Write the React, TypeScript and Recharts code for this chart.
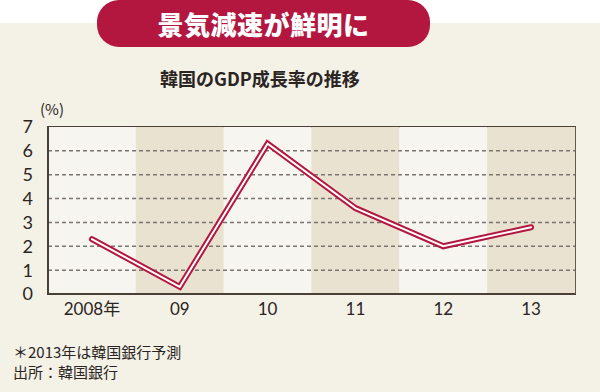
import React from 'react';
import {
  ComposedChart,
  Bar,
  Line,
  Cell,
  XAxis,
  YAxis,
  ReferenceLine,
  ReferenceArea,
} from 'recharts';

const years = ['2008年', '09', '10', '11', '12', '13'];
const growth = [2.3, 0.3, 6.3, 3.6, 2.0, 2.8];
const yTicks = [0, 1, 2, 3, 4, 5, 6, 7];
const gridValues = [1, 2, 3, 4, 5, 6];
const bandTop = 7;

const data = years.map((year, i) => ({ year, growth: growth[i], band: bandTop }));

const CRIMSON = '#b3173f';
const BG = '#f4f1e6';
const BAND_LIGHT = '#f7f5f0';
const BAND_DARK = '#e9e2d0';
const AXIS = '#4a4038';
const FONT = '"Noto Sans CJK JP", "Noto Sans", sans-serif';
const NUM_FONT = 'Lato, "Noto Sans CJK JP", sans-serif';

export default function App() {
  return (
    <div
      style={{
        position: 'fixed',
        left: 0,
        top: 0,
        width: 600,
        height: 392,
        background: '#ffffff',
        overflow: 'hidden',
        fontFamily: FONT,
      }}
    >
      {/* beige panel */}
      <div style={{ position: 'absolute', left: 0, top: 23, width: 600, height: 369, background: BG }} />

      {/* title banner */}
      <div
        style={{
          position: 'absolute',
          left: 97,
          top: 0,
          width: 333,
          height: 47,
          borderRadius: 22,
          background: CRIMSON,
          color: '#fff',
          fontSize: 26,
          fontWeight: 900,
          lineHeight: '47px',
          textAlign: 'center',
          letterSpacing: 0.5,
        }}
      >
        景気減速が鮮明に
      </div>

      <div
        style={{
          position: 'absolute',
          left: 0,
          top: 65,
          width: 520,
          textAlign: 'center',
          fontSize: 18,
          fontWeight: 700,
          color: '#2a2523',
          lineHeight: '26px',
        }}
      >
        韓国のGDP成長率の推移
      </div>

      <div style={{ position: 'absolute', left: 40, top: 99, fontSize: 15, color: '#2a2523', lineHeight: '20px' }}>
        (%)
      </div>

      <div style={{ position: 'absolute', top: 0, left: 0 }}>
        <ComposedChart
          width={600}
          height={392}
          data={data}
          margin={{ top: 127, right: 25, bottom: 68, left: 0 }}
          barCategoryGap={0}
          barGap={0}
        >
          <XAxis
            dataKey="year"
            height={30}
            tickLine={false}
            axisLine={{ stroke: AXIS, strokeWidth: 2 }}
            tick={{ fill: '#2a2523', fontSize: 17, fontFamily: NUM_FONT }}
            tickMargin={3}
            interval={0}
          />
          <YAxis
            domain={[0, 7]}
            ticks={yTicks}
            interval={0}
            width={48}
            tickLine={false}
            axisLine={{ stroke: AXIS, strokeWidth: 2 }}
            tick={{ fill: '#2a2523', fontSize: 18, fontFamily: NUM_FONT }}
            tickMargin={9}
          />
          <Bar dataKey="band" isAnimationActive={false}>
            {data.map((d, i) => (
              <Cell key={d.year} fill={i % 2 === 0 ? BAND_LIGHT : BAND_DARK} />
            ))}
          </Bar>
          {gridValues.map((v) => (
            <ReferenceLine key={v} y={v} stroke="#7a7470" strokeWidth={1.5} strokeDasharray="4 3" />
          ))}
          <ReferenceArea
            x1={years[0]}
            x2={years[years.length - 1]}
            y1={0}
            y2={7}
            fill="none"
            fillOpacity={0}
            stroke={AXIS}
            strokeWidth={2}
          />
          <Line
            dataKey="growth"
            stroke={CRIMSON}
            strokeWidth={6}
            strokeLinejoin="miter"
            strokeLinecap="round"
            dot={false}
            activeDot={false}
            isAnimationActive={false}
          />
          <Line
            dataKey="growth"
            stroke="#ffffff"
            strokeWidth={2}
            strokeLinejoin="miter"
            strokeLinecap="round"
            dot={false}
            activeDot={false}
            isAnimationActive={false}
          />
        </ComposedChart>
      </div>

      <div style={{ position: 'absolute', left: 13, top: 342, fontSize: 15, color: '#2a2523', lineHeight: '20px' }}>
        <div>＊2013年は韓国銀行予測</div>
        <div>出所：韓国銀行</div>
      </div>
    </div>
  );
}
